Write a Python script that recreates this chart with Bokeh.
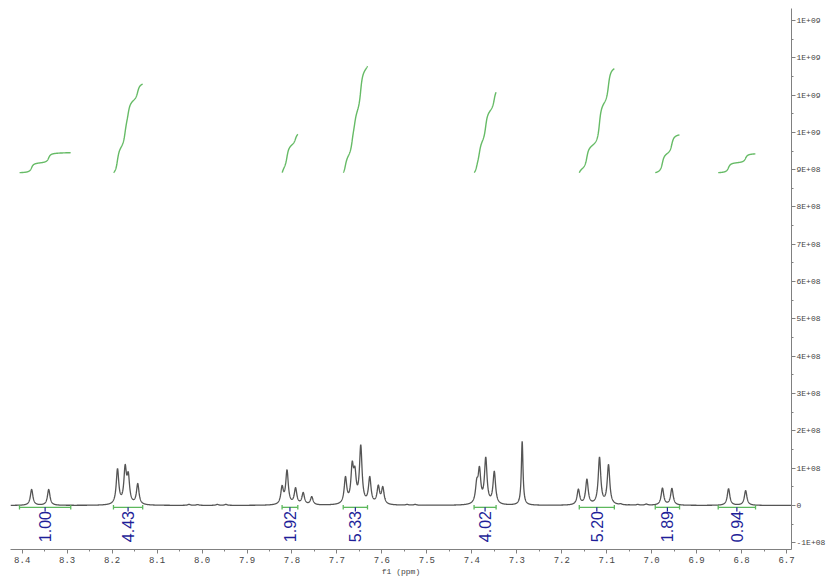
import numpy as np
from bokeh.plotting import figure
from bokeh.models import Range1d, FixedTicker
from bokeh.embed import file_html
from bokeh.resources import INLINE
from bokeh.core.properties import value

# ---- data ----
peak_ppm = [8.379, 8.341,
            8.188, 8.171, 8.164, 8.143,
            8.029, 8.010, 7.966, 7.947,
            7.822, 7.811, 7.792, 7.775, 7.756,
            7.681, 7.666, 7.660, 7.647, 7.627, 7.608, 7.598,
            7.544, 7.526,
            7.389, 7.383, 7.369, 7.350,
            7.288,
            7.163, 7.144, 7.116, 7.096,
            7.069, 7.050, 7.031, 7.012,
            6.976, 6.955,
            6.829, 6.791]
peak_height = [0.43e8, 0.43e8,
               0.99e8, 1.10e8, 0.90e8, 0.59e8,
               0.03e8, 0.025e8, 0.03e8, 0.03e8,
               0.54e8, 0.96e8, 0.48e8, 0.35e8, 0.24e8,
               0.78e8, 1.19e8, 1.05e8, 1.63e8, 0.78e8, 0.55e8, 0.51e8,
               0.03e8, 0.03e8,
               0.73e8, 1.05e8, 1.30e8, 0.92e8,
               1.72e8,
               0.44e8, 0.71e8, 1.30e8, 1.10e8,
               0.05e8, 0.02e8, 0.03e8, 0.04e8,
               0.47e8, 0.46e8,
               0.45e8, 0.40e8]
peak_hwhm = [0.0034] * len(peak_ppm)
peak_hwhm[peak_ppm.index(7.288)] = 0.0022

integral_start = [8.406, 8.197, 7.822, 7.686, 7.395, 7.161, 6.992, 6.852]
integral_end = [8.292, 8.132, 7.787, 7.632, 7.346, 7.083, 6.938, 6.769]
integral_value = [1.00, 4.43, 1.92, 5.33, 4.02, 5.20, 1.89, 0.94]
integral_labels = ["1.00", "4.43", "1.92", "5.33", "4.02", "5.20", "1.89", "0.94"]
integral_base = 8.92e8
integral_unit = 0.536e8

x_ticks = [8.4, 8.3, 8.2, 8.1, 8.0, 7.9, 7.8, 7.7, 7.6, 7.5, 7.4, 7.3, 7.2, 7.1, 7.0, 6.9, 6.8, 6.7]
x_tick_labels = ["8.4", "8.3", "8.2", "8.1", "8.0", "7.9", "7.8", "7.7", "7.6", "7.5",
                 "7.4", "7.3", "7.2", "7.1", "7.0", "6.9", "6.8", "6.7"]
x_minor = [8.45, 8.35, 8.25, 8.15, 8.05, 7.95, 7.85, 7.75, 7.65, 7.55, 7.45, 7.35, 7.25,
           7.15, 7.05, 6.95, 6.85, 6.75]
y_ticks = [-1e8, 0.0, 1e8, 2e8, 3e8, 4e8, 5e8, 6e8, 7e8, 8e8, 9e8, 1.0e9, 1.1e9, 1.2e9, 1.3e9]
y_tick_labels = ["-1E+08", "0", "1E+08", "2E+08", "3E+08", "4E+08", "5E+08", "6E+08", "7E+08",
                 "8E+08", "9E+08", "1E+09", "1E+09", "1E+09", "1E+09"]
y_minor = [-0.5e8, 0.5e8, 1.5e8, 2.5e8, 3.5e8, 4.5e8, 5.5e8, 6.5e8, 7.5e8, 8.5e8, 9.5e8,
           10.5e8, 11.5e8, 12.5e8]

X_START, X_END = 8.426, 6.689
Y_START, Y_END = -1.18e8, 13.32e8

# ---- spectrum built from the peak list (Lorentzian lines) ----
pp = np.array(peak_ppm)
hh = np.array(peak_height)
ww = np.array(peak_hwhm)
M = 1.0 / (1.0 + ((pp[:, None] - pp[None, :]) / ww[None, :]) ** 2)
amp = np.linalg.solve(M, hh)
grid = np.linspace(X_START, X_END, 5000)
spec = (amp[None, :] / (1.0 + ((grid[:, None] - pp[None, :]) / ww[None, :]) ** 2)).sum(axis=1)

# integral curves
int_xs, int_ys = [], []
for a, b, v in zip(integral_start, integral_end, integral_value):
    m = (grid <= a) & (grid >= b)
    seg_x = grid[m]
    cum = np.cumsum(spec[m])
    cum = cum - cum[0]
    cum = cum / cum[-1] * v
    int_xs.append(seg_x)
    int_ys.append(integral_base + cum * integral_unit)

p = figure(width=829, height=581, x_range=Range1d(X_START, X_END),
           y_range=Range1d(Y_START, Y_END), output_backend="svg",
           toolbar_location=None, y_axis_location="right",
           min_border_left=10, min_border_top=8, min_border_right=38, min_border_bottom=32)
p.outline_line_color = None
p.grid.visible = False
p.background_fill_color = "white"

tick_font = "Liberation Mono"
for ax in (p.xaxis[0], p.yaxis[0]):
    ax.axis_line_color = "#808080"
    ax.major_tick_line_color = "#808080"
    ax.minor_tick_line_color = "#808080"
    ax.major_tick_in = 0
    ax.major_tick_out = 4
    ax.minor_tick_in = 0
    ax.minor_tick_out = 2
    ax.major_label_text_font = tick_font
    ax.major_label_text_color = "#444444"
    ax.major_label_standoff = 1

p.yaxis.major_label_text_font_size = "8px"

p.xaxis.ticker = FixedTicker(ticks=x_ticks, minor_ticks=x_minor)
p.xaxis.major_label_overrides = dict(zip(x_ticks, x_tick_labels))
p.xaxis.major_label_text_font_size = "9px"
p.xaxis.major_label_standoff = 3
p.xaxis.axis_label = "f1 (ppm)"
p.xaxis.axis_label_text_font = tick_font
p.xaxis.axis_label_text_font_size = "8px"
p.xaxis.axis_label_text_font_style = "normal"
p.xaxis.axis_label_text_color = "#444444"
p.xaxis.axis_label_standoff = 1

p.yaxis.ticker = FixedTicker(ticks=y_ticks, minor_ticks=y_minor)
p.yaxis.major_label_overrides = dict(zip(y_ticks, y_tick_labels))

p.line(grid, spec, line_color="#555555", line_width=1.3)
p.multi_line(int_xs, int_ys, line_color="#66bb66", line_width=1.4)

centers = [(a + b) / 2 for a, b in zip(integral_start, integral_end)]
n = len(centers)
bar_y = -0.05e8
p.segment(x0=integral_start, y0=[bar_y] * n, x1=integral_end, y1=[bar_y] * n,
          line_color="#5cb85c", line_width=1.3)
p.segment(x0=integral_start + integral_end, y0=[bar_y - 0.06e8] * (2 * n),
          x1=integral_start + integral_end, y1=[bar_y + 0.06e8] * (2 * n),
          line_color="#5cb85c", line_width=1.3)
p.segment(x0=centers, y0=[bar_y] * n, x1=centers, y1=[-0.16e8] * n,
          line_color="#1f1f99", line_width=1.2)
p.text(x=centers, y=[-0.15e8] * n, text=integral_labels, angle=np.pi / 2,
       text_align="right", text_baseline="middle",
       text_font=value("Liberation Sans"), text_font_size="16px", text_color="#1f1f99")

open("out.html", "w").write(file_html(p, INLINE))
